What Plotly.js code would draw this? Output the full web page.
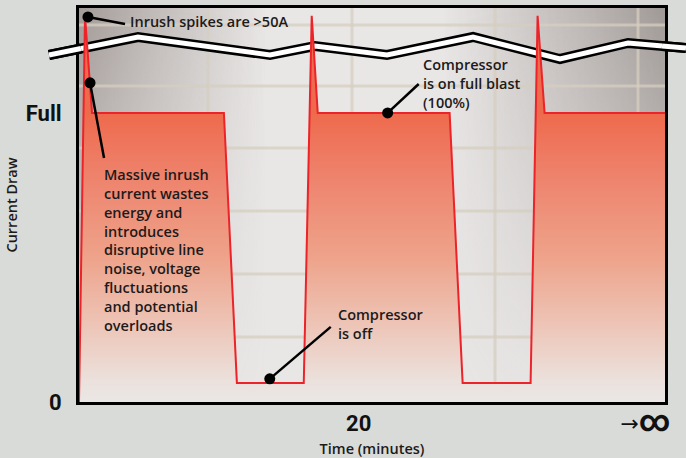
<!DOCTYPE html>
<html>
<head>
<meta charset="utf-8">
<script src="https://cdn.plot.ly/plotly-3.0.1.min.js"></script>
<style>html,body{margin:0;padding:0;background:#d9dbd8;}#chart{width:686px;height:458px;}</style>
</head>
<body>
<div id="chart"></div>
<script>
// ---- data (minutes, current draw in % of full) ----
const timeMin = [0, 0.43, 0.93, 10.36, 11.29, 16.07, 16.64, 17.07, 26.5, 27.43, 32.29, 32.79, 33.29, 41.9];
const currentDraw = [0, 133.6, 100, 100, 6.6, 6.6, 133.6, 100, 100, 6.6, 6.6, 133.6, 100, 100];

const xTickVals = [20, 40.5];
const xTickText = ['20', '<span style="font-weight:normal">\u2192</span><span style="font-size:30px">\u221E</span>'];
const yTickVals = [0, 100];
const yTickText = ['0', 'Full'];

// callout points on the curve
const calloutTime = [0.64, 0.79, 22.07, 13.64];
const calloutCurrent = [133.2, 110.4, 100, 8.0];
const leaderEndTime = [3.29, 1.79, 24.29, 18.0];
const leaderEndCurrent = [130.8, 84.4, 110.0, 26.0];
const labelTime = [3.5, 1.65, 24.45, 18.38];
const labelCurrent = [131.5, 82.6, 120.6, 34.1];
const labelText = [
  'Inrush spikes are >50A',
  'Massive inrush<br>current wastes<br>energy and<br>introduces<br>disruptive line<br>noise, voltage<br>fluctuations<br>and potential<br>overloads',
  'Compressor<br>is on full blast<br>(100%)',
  'Compressor<br>is off'
];
const labelYAnchor = ['middle', 'top', 'top', 'top'];

// ---- decoration: axis-break zigzag band (paper coords) ----
const breakX = [-0.0512, 0.1007, 0.3259, 0.4027, 0.5256, 0.6724, 0.8208, 0.9369, 1.0358];
const breakY = [0.8807, 0.9264, 0.8807, 0.9036, 0.8807, 0.9264, 0.8706, 0.9112, 0.8985];

function pathOf(xs, ys){ return xs.map((x,i)=> (i? 'L':'M') + x + ',' + ys[i]).join(' '); }

// background (vignette + grid) as an SVG image
const W = 586, H = 394;
const gridV = [129, 273, 416, 559];
const gridH = [17, 78, 140, 203, 266, 329];
let gridSvg = '';
gridV.forEach(v=>{ gridSvg += `<line x1='${v}' y1='0' x2='${v}' y2='${H}'/>`; });
gridH.forEach(h=>{ gridSvg += `<line x1='0' y1='${h}' x2='${W}' y2='${h}'/>`; });
const bgSvg = `<svg xmlns='http://www.w3.org/2000/svg' width='${W}' height='${H}' viewBox='0 0 ${W} ${H}' preserveAspectRatio='none'>
<defs>
<linearGradient id='h' x1='0' x2='1' y1='0' y2='0'>
<stop offset='0' stop-color='#a29a97' stop-opacity='1'/>
<stop offset='0.12' stop-color='#a29a97' stop-opacity='0.6'/>
<stop offset='0.32' stop-color='#a29a97' stop-opacity='0'/>
<stop offset='0.62' stop-color='#a29a97' stop-opacity='0'/>
<stop offset='0.85' stop-color='#a29a97' stop-opacity='0.6'/>
<stop offset='1' stop-color='#9f9996' stop-opacity='1'/>
</linearGradient>
<linearGradient id='v' x1='0' x2='0' y1='0' y2='1'>
<stop offset='0' stop-color='#ffffff'/>
<stop offset='0.3' stop-color='#bbbbbb'/>
<stop offset='0.9' stop-color='#222222'/>
<stop offset='1' stop-color='#111111'/>
</linearGradient>
<mask id='m'><rect x='0' y='0' width='${W}' height='${H}' fill='url(#v)'/></mask>
</defs>
<rect x='0' y='0' width='${W}' height='${H}' fill='#e9e7e6'/>
<rect x='0' y='0' width='${W}' height='${H}' fill='url(#h)' mask='url(#m)'/>
<g stroke='#d6cdbf' stroke-opacity='0.75' stroke-width='3'>${gridSvg}</g>
</svg>`;
const bgSrc = 'data:image/svg+xml;charset=utf-8,' + encodeURIComponent(bgSvg);

const textFont = {family: '"Open Sans", Lato, sans-serif', size: 14.5, color: '#1d1a1a', weight: 600};
const tickFont = {family: 'Roboto, "DejaVu Sans", sans-serif', size: 22, color: '#111', weight: 'bold'};

const traces = [
  {
    x: timeMin, y: currentDraw, type: 'scatter', mode: 'lines',
    line: {color: '#ec2329', width: 2},
    fill: 'tozeroy',
    fillgradient: {type: 'vertical', start: 0, stop: 100,
      colorscale: [[0,'#eae7e5'],[0.07,'#ebe1dd'],[0.25,'#edc7ba'],[0.5,'#eea38a'],[0.75,'#ee8670'],[1,'#ee6a4d']]},
    hoverinfo: 'skip', showlegend: false
  },
  {
    x: calloutTime, y: calloutCurrent, type: 'scatter', mode: 'markers',
    marker: {color: '#000', size: 11}, cliponaxis: false,
    hoverinfo: 'skip', showlegend: false
  }
];

const shapes = [
  {type:'path', xref:'paper', yref:'paper', layer:'below', path: pathOf(breakX, breakY), line:{color:'#000', width:10}},
  {type:'path', xref:'paper', yref:'paper', layer:'below', path: pathOf(breakX, breakY), line:{color:'#fff', width:5}},
  {type:'path', xref:'paper', yref:'paper', layer:'above', path: pathOf([breakX[0], 0.0034],[breakY[0], 0.8972]), line:{color:'#000', width:10}},
  {type:'path', xref:'paper', yref:'paper', layer:'above', path: pathOf([breakX[0], 0.0034],[breakY[0], 0.8972]), line:{color:'#fff', width:5}},
  {type:'path', xref:'paper', yref:'paper', layer:'above', path: pathOf([0.9949, breakX[8]],[0.9037, breakY[8]]), line:{color:'#000', width:10}},
  {type:'path', xref:'paper', yref:'paper', layer:'above', path: pathOf([0.9949, breakX[8]],[0.9037, breakY[8]]), line:{color:'#fff', width:5}}
];
calloutTime.forEach((t,i)=>{
  shapes.push({type:'line', xref:'x', yref:'y', layer:'above',
    x0: t, y0: calloutCurrent[i], x1: leaderEndTime[i], y1: leaderEndCurrent[i],
    line:{color:'#000', width:2.5}});
});

const annotations = labelText.map((txt,i)=>({
  x: labelTime[i], y: labelCurrent[i], xref:'x', yref:'y',
  text: txt, showarrow:false, xanchor:'left', yanchor: labelYAnchor[i], align:'left',
  font: textFont
}));

const layout = {
  width: 686, height: 458,
  margin: {l: 79, r: 21, t: 8, b: 56},
  paper_bgcolor: '#d9dbd8',
  plot_bgcolor: 'rgba(0,0,0,0)',
  showlegend: false,
  xaxis: {
    range: [0, 41.9], showgrid: false, zeroline: false,
    showline: true, linecolor: '#000', linewidth: 3, mirror: true,
    tickvals: xTickVals, ticktext: xTickText, ticks: '', tickfont: tickFont,
    ticklabelstandoff: 0,
    title: {text: 'Time (minutes)', font: {family: '"Open Sans", sans-serif', size: 14.5, color: '#1d1a1a', weight: 600}, standoff: 7},
    fixedrange: true
  },
  yaxis: {
    range: [0, 136.3], showgrid: false, zeroline: false,
    showline: true, linecolor: '#000', linewidth: 3, mirror: true,
    tickvals: yTickVals, ticktext: yTickText, ticks: '', tickfont: tickFont,
    ticklabelstandoff: 10,
    title: {text: 'Current Draw', font: {family: '"Open Sans", sans-serif', size: 14.5, color: '#1d1a1a', weight: 600}, standoff: 5},
    fixedrange: true
  },
  images: [{source: bgSrc, xref:'paper', yref:'paper', x:0, y:1, sizex:1, sizey:1, sizing:'stretch', xanchor:'left', yanchor:'top', layer:'below'}],
  shapes: shapes,
  annotations: annotations
};

Plotly.newPlot('chart', traces, layout, {displayModeBar: false, staticPlot: true});
</script>
</body>
</html>
